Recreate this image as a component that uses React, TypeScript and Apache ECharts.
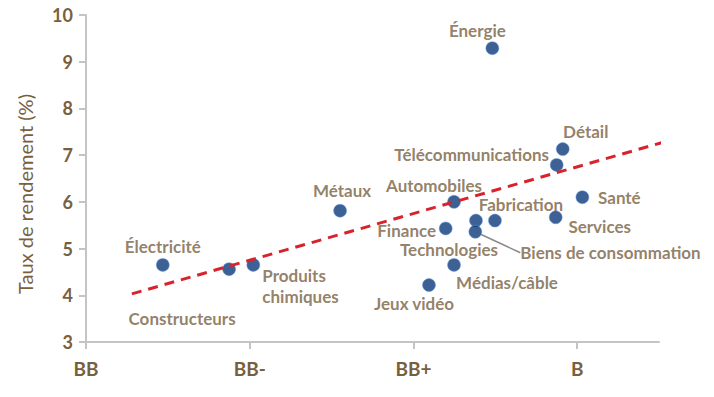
import React, { useEffect, useRef } from "react";
import * as echarts from "echarts";

// Categories (sectors) and their positions on the rating scale / yields
const sectors = [
  "Électricité",
  "Constructeurs",
  "Produits\nchimiques",
  "Métaux",
  "Jeux vidéo",
  "Médias/câble",
  "Finance",
  "Automobiles",
  "Technologies",
  "Biens de consommation",
  "Fabrication",
  "Services",
  "Énergie",
  "Détail",
  "Télécommunications",
  "Santé",
];
const ratingPosition = [0.469, 0.874, 1.022, 1.552, 2.095, 2.248, 2.197, 2.248, 2.382, 2.378, 2.498, 2.869, 2.482, 2.912, 2.875, 3.032];
const yieldPct = [4.65, 4.56, 4.65, 5.81, 4.22, 4.65, 5.43, 6.0, 5.6, 5.36, 5.6, 5.67, 9.29, 7.13, 6.79, 6.1];

const ratingLabels = ["BB", "BB-", "BB+", "B"];
const ratingTicks = [0, 1, 2, 3];

const trendX = [0.28, 3.55];
const trendY = [4.03, 7.3];

// label placement (styling only): [dx, dy, align]
const labelPlacement: [number, number, string][] = [
  [0, -18, "center"],
  [-47, 49, "center"],
  [9, 21, "left"],
  [2, -20, "center"],
  [-15, 18, "center"],
  [53, 18, "center"],
  [-39, 2, "center"],
  [-20, -16, "center"],
  [-27, 29, "center"],
  [45, 21, "left"],
  [26, -16, "center"],
  [44, 9, "center"],
  [-15, -18, "center"],
  [23, -18, "center"],
  [-85, -10, "center"],
  [37, 0, "center"],
];

const BROWN = "#78603f";
const FONT = "Lato";

export default function App() {
  const ref = useRef<HTMLDivElement>(null);
  useEffect(() => {
    if (!ref.current) return;
    document.body.style.margin = "0";
    const chart = echarts.init(ref.current, null, { renderer: "svg" });
    const scatterData = sectors.map((name, i) => ({
      name,
      value: [ratingPosition[i], yieldPct[i]],
      label: { align: labelPlacement[i][2], lineHeight: name.includes("\n") ? 21 : 16 },
      labelLine: name === "Biens de consommation" ? { show: true, lineStyle: { color: "#8a8a8a", width: 1.5 } } : { show: false },
    }));
    chart.setOption({
      animation: false,
      grid: { left: 86, right: 55, top: 15, bottom: 55, containLabel: false },
      xAxis: {
        type: "value",
        min: 0,
        max: 3.5,
        interval: 1,
        splitLine: { show: false },
        axisLine: { show: true, onZero: false, lineStyle: { color: "#c4c4c4", width: 2 } },
        axisTick: { show: true, length: 7, customValues: ratingTicks, lineStyle: { color: "#c4c4c4", width: 2 } },
        axisLabel: {
          customValues: ratingTicks,
          formatter: (v: number) => ratingLabels[Math.round(v)] ?? "",
          color: BROWN,
          fontFamily: FONT,
          fontSize: 19,
          fontWeight: "bold",
          margin: 17,
        },
      },
      yAxis: {
        type: "value",
        min: 3,
        max: 10,
        interval: 1,
        splitLine: { show: false },
        axisLine: { show: true, onZero: false, lineStyle: { color: "#c4c4c4", width: 2 } },
        axisTick: { show: true, length: 7, lineStyle: { color: "#c4c4c4", width: 2 } },
        axisLabel: {
          color: BROWN,
          fontFamily: FONT,
          fontSize: 18,
          fontWeight: "bold",
          margin: 13,
        },
      },
      graphic: [
        {
          type: "text",
          x: 25,
          y: 194,
          rotation: Math.PI / 2,
          style: {
            text: "Taux de rendement (%)",
            fill: BROWN,
            font: `20px ${FONT}`,
            align: "center",
            verticalAlign: "middle",
          },
        },
      ],
      series: [
        {
          type: "scatter",
          data: scatterData,
          symbolSize: 13,
          itemStyle: {
            color: "#0c3a7a",
            borderColor: "rgba(110,160,225,0.6)",
            borderWidth: 1,
          },
          label: {
            show: true,
            position: "inside",
            formatter: (p: any) => p.name,
            color: BROWN,
            fontFamily: FONT,
            fontSize: 17,
            fontWeight: "bold",
          },
          labelLine: { show: false },
          labelLayout: (p: any) => ({ dx: labelPlacement[p.dataIndex][0], dy: labelPlacement[p.dataIndex][1] }),
          z: 2,
        },
        {
          type: "line",
          data: trendX.map((x, i) => [x, trendY[i]]),
          symbol: "none",
          lineStyle: { color: "#d7232c", width: 3, type: [10, 7] },
          z: 3,
          silent: true,
        },
      ],
    });
    return () => chart.dispose();
  }, []);
  return <div ref={ref} style={{ width: 714, height: 397 }} />;
}
